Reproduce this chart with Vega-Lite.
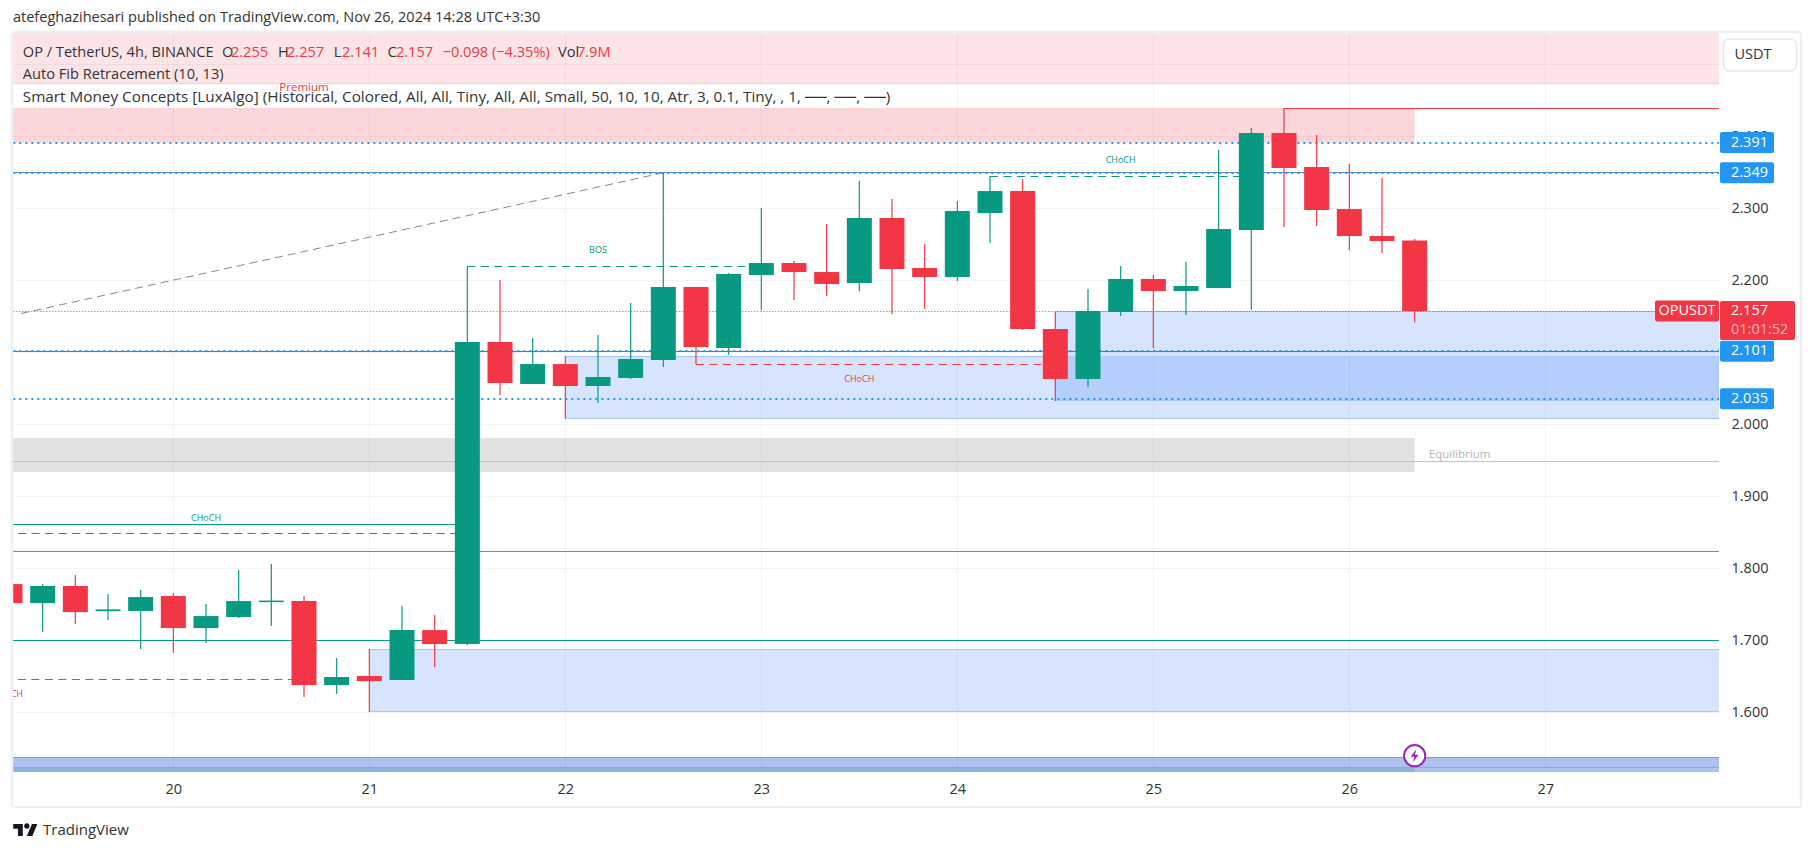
{
"$schema":"https://vega.github.io/schema/vega-lite/v6.json",
"width":1706,"height":739,
"autosize":{"type":"none"},
"padding":{"left":13,"top":33,"right":95,"bottom":79},
"background":"white",
"title":{"text":"atefeghazihesari published on TradingView.com, Nov 26, 2024 14:28 UTC+3:30","anchor":"start","frame":"group","fontSize":14.5,"fontWeight":"normal","color":"#333333","font":"Open Sans","offset":5},
"config":{"view":{"stroke":null},"font":"Open Sans"},
"datasets":{
"candles":[
{"t":"2024-11-19T04:00:00Z","o":1.7777,"h":1.7777,"l":1.7513,"c":1.7513,"dir":"down"},
{"t":"2024-11-19T08:00:00Z","o":1.7513,"h":1.7777,"l":1.7111,"c":1.775,"dir":"up"},
{"t":"2024-11-19T12:00:00Z","o":1.775,"h":1.7902,"l":1.7222,"c":1.7388,"dir":"down"},
{"t":"2024-11-19T16:00:00Z","o":1.7401,"h":1.7638,"l":1.7277,"c":1.7425,"dir":"up"},
{"t":"2024-11-19T20:00:00Z","o":1.7403,"h":1.7694,"l":1.6875,"c":1.7597,"dir":"up"},
{"t":"2024-11-20T00:00:00Z","o":1.7611,"h":1.7652,"l":1.6819,"c":1.7166,"dir":"down"},
{"t":"2024-11-20T04:00:00Z","o":1.7166,"h":1.75,"l":1.6958,"c":1.7333,"dir":"up"},
{"t":"2024-11-20T08:00:00Z","o":1.7319,"h":1.7972,"l":1.7305,"c":1.7541,"dir":"up"},
{"t":"2024-11-20T12:00:00Z","o":1.7526,"h":1.8055,"l":1.7194,"c":1.7548,"dir":"up"},
{"t":"2024-11-20T16:00:00Z","o":1.7541,"h":1.7611,"l":1.6208,"c":1.6375,"dir":"down"},
{"t":"2024-11-20T20:00:00Z","o":1.6375,"h":1.675,"l":1.625,"c":1.6486,"dir":"up"},
{"t":"2024-11-21T00:00:00Z","o":1.65,"h":1.6875,"l":1.6,"c":1.643,"dir":"down"},
{"t":"2024-11-21T04:00:00Z","o":1.6444,"h":1.7472,"l":1.6444,"c":1.7138,"dir":"up"},
{"t":"2024-11-21T08:00:00Z","o":1.7138,"h":1.7347,"l":1.6625,"c":1.6944,"dir":"down"},
{"t":"2024-11-21T12:00:00Z","o":1.6944,"h":2.219,"l":1.693,"c":2.1139,"dir":"up"},
{"t":"2024-11-21T16:00:00Z","o":2.1139,"h":2.2,"l":2.0403,"c":2.057,"dir":"down"},
{"t":"2024-11-21T20:00:00Z","o":2.0556,"h":2.1195,"l":2.0556,"c":2.0833,"dir":"up"},
{"t":"2024-11-22T00:00:00Z","o":2.0833,"h":2.0945,"l":2.0074,"c":2.0528,"dir":"down"},
{"t":"2024-11-22T04:00:00Z","o":2.0528,"h":2.1236,"l":2.0292,"c":2.0653,"dir":"up"},
{"t":"2024-11-22T08:00:00Z","o":2.0639,"h":2.1681,"l":2.0625,"c":2.0903,"dir":"up"},
{"t":"2024-11-22T12:00:00Z","o":2.0889,"h":2.3491,"l":2.0792,"c":2.1903,"dir":"up"},
{"t":"2024-11-22T16:00:00Z","o":2.1903,"h":2.1903,"l":2.0829,"c":2.107,"dir":"down"},
{"t":"2024-11-22T20:00:00Z","o":2.1056,"h":2.2097,"l":2.0958,"c":2.2083,"dir":"up"},
{"t":"2024-11-23T00:00:00Z","o":2.207,"h":2.3,"l":2.1583,"c":2.2236,"dir":"up"},
{"t":"2024-11-23T04:00:00Z","o":2.2236,"h":2.2264,"l":2.1722,"c":2.2111,"dir":"down"},
{"t":"2024-11-23T08:00:00Z","o":2.2111,"h":2.2778,"l":2.1778,"c":2.1945,"dir":"down"},
{"t":"2024-11-23T12:00:00Z","o":2.1959,"h":2.3375,"l":2.1847,"c":2.2861,"dir":"up"},
{"t":"2024-11-23T16:00:00Z","o":2.2861,"h":2.3125,"l":2.1528,"c":2.2153,"dir":"down"},
{"t":"2024-11-23T20:00:00Z","o":2.2167,"h":2.25,"l":2.1597,"c":2.2042,"dir":"down"},
{"t":"2024-11-24T00:00:00Z","o":2.2042,"h":2.3097,"l":2.1986,"c":2.2959,"dir":"up"},
{"t":"2024-11-24T04:00:00Z","o":2.2931,"h":2.3445,"l":2.2514,"c":2.3236,"dir":"up"},
{"t":"2024-11-24T08:00:00Z","o":2.3236,"h":2.3403,"l":2.1306,"c":2.1319,"dir":"down"},
{"t":"2024-11-24T12:00:00Z","o":2.1319,"h":2.1556,"l":2.0319,"c":2.0625,"dir":"down"},
{"t":"2024-11-24T16:00:00Z","o":2.0625,"h":2.1875,"l":2.0514,"c":2.1569,"dir":"up"},
{"t":"2024-11-24T20:00:00Z","o":2.1556,"h":2.2194,"l":2.15,"c":2.2014,"dir":"up"},
{"t":"2024-11-25T00:00:00Z","o":2.2014,"h":2.2069,"l":2.1056,"c":2.1847,"dir":"down"},
{"t":"2024-11-25T04:00:00Z","o":2.1847,"h":2.225,"l":2.1514,"c":2.1917,"dir":"up"},
{"t":"2024-11-25T08:00:00Z","o":2.1889,"h":2.3806,"l":2.1889,"c":2.2708,"dir":"up"},
{"t":"2024-11-25T12:00:00Z","o":2.2694,"h":2.4111,"l":2.1583,"c":2.4042,"dir":"up"},
{"t":"2024-11-25T16:00:00Z","o":2.4042,"h":2.4389,"l":2.2736,"c":2.3556,"dir":"down"},
{"t":"2024-11-25T20:00:00Z","o":2.3569,"h":2.4014,"l":2.275,"c":2.2972,"dir":"down"},
{"t":"2024-11-26T00:00:00Z","o":2.2986,"h":2.3611,"l":2.2417,"c":2.2611,"dir":"down"},
{"t":"2024-11-26T04:00:00Z","o":2.2611,"h":2.3417,"l":2.2375,"c":2.2542,"dir":"down"},
{"t":"2024-11-26T08:00:00Z","o":2.255,"h":2.257,"l":2.141,"c":2.157,"dir":"down"}
],
"zones":[
{"t0":"2024-11-19T00:00:00Z","t1":"2024-11-28T00:00:00Z","p0":2.472,"p1":2.5431,"kind":"premiumTop"},
{"t0":"2024-11-19T00:00:00Z","t1":"2024-11-26T08:00:00Z","p0":2.3907,"p1":2.4389,"kind":"premium"},
{"t0":"2024-11-19T00:00:00Z","t1":"2024-11-26T08:00:00Z","p0":1.9333,"p1":1.9806,"kind":"equilibrium"},
{"t0":"2024-11-21T00:00:00Z","t1":"2024-11-28T00:00:00Z","p0":1.6,"p1":1.6875,"kind":"demand"},
{"t0":"2024-11-22T00:00:00Z","t1":"2024-11-28T00:00:00Z","p0":2.0074,"p1":2.0945,"kind":"demand"},
{"t0":"2024-11-24T12:00:00Z","t1":"2024-11-28T00:00:00Z","p0":2.032,"p1":2.1556,"kind":"demand"},
{"t0":"2024-11-19T00:00:00Z","t1":"2024-11-28T00:00:00Z","p0":1.5167,"p1":1.5375,"kind":"band"},
{"t0":"2024-11-19T00:00:00Z","t1":"2024-11-26T08:00:00Z","p0":1.5167,"p1":1.5232,"kind":"bandLow"}
],
"solid":[
{"t0":"2024-11-19T00:00:00Z","t1":"2024-11-28T00:00:00Z","p":1.69935,"kind":"teal"},
{"t0":"2024-11-19T00:00:00Z","t1":"2024-11-28T00:00:00Z","p":1.82296,"kind":"green"},
{"t0":"2024-11-19T00:00:00Z","t1":"2024-11-28T00:00:00Z","p":1.94796,"kind":"equi"},
{"t0":"2024-11-19T00:00:00Z","t1":"2024-11-21T12:00:00Z","p":1.86046,"kind":"teal"},
{"t0":"2024-11-25T16:00:00Z","t1":"2024-11-28T00:00:00Z","p":2.43824,"kind":"red"},
{"t0":"2024-11-19T00:00:00Z","t1":"2024-11-28T00:00:00Z","p":2.10074,"kind":"red"},
{"t0":"2024-11-19T00:00:00Z","t1":"2024-11-28T00:00:00Z","p":2.34935,"kind":"steel"},
{"t0":"2024-11-21T00:00:00Z","t1":"2024-11-28T00:00:00Z","p":1.68685,"kind":"edge"},
{"t0":"2024-11-21T00:00:00Z","t1":"2024-11-28T00:00:00Z","p":1.60074,"kind":"edge"},
{"t0":"2024-11-22T00:00:00Z","t1":"2024-11-28T00:00:00Z","p":2.0938,"kind":"edge"},
{"t0":"2024-11-22T00:00:00Z","t1":"2024-11-28T00:00:00Z","p":2.00768,"kind":"edge"},
{"t0":"2024-11-24T12:00:00Z","t1":"2024-11-28T00:00:00Z","p":2.1563,"kind":"edge"},
{"t0":"2024-11-24T12:00:00Z","t1":"2024-11-28T00:00:00Z","p":2.03268,"kind":"edge"},
{"t0":"2024-11-19T00:00:00Z","t1":"2024-11-28T00:00:00Z","p":2.47296,"kind":"pinkEdge"},
{"t0":"2024-11-19T00:00:00Z","t1":"2024-11-28T00:00:00Z","p":1.53685,"kind":"bandEdge"},
{"t0":"2024-11-19T00:00:00Z","t1":"2024-11-28T00:00:00Z","p":1.52296,"kind":"bandLine"}
],
"dashed":[
{"t0":"2024-11-19T05:00:00Z","t1":"2024-11-21T11:00:00Z","p":1.84796,"kind":"teal"},
{"t0":"2024-11-19T00:00:00Z","t1":"2024-11-20T16:00:00Z","p":1.64518,"kind":"red"},
{"t0":"2024-11-21T12:00:00Z","t1":"2024-11-23T00:00:00Z","p":2.21879,"kind":"teal"},
{"t0":"2024-11-22T16:00:00Z","t1":"2024-11-24T12:00:00Z","p":2.08268,"kind":"red"},
{"t0":"2024-11-24T04:00:00Z","t1":"2024-11-25T12:00:00Z","p":2.34379,"kind":"teal"}
],
"fib":[
{"t0":"2024-11-19T00:00:00Z","t1":"2024-11-28T00:00:00Z","p":2.39032},
{"t0":"2024-11-19T00:00:00Z","t1":"2024-11-28T00:00:00Z","p":2.34866},
{"t0":"2024-11-19T00:00:00Z","t1":"2024-11-28T00:00:00Z","p":2.10143},
{"t0":"2024-11-19T00:00:00Z","t1":"2024-11-28T00:00:00Z","p":2.03477}
],
"last":[{"t0":"2024-11-19T00:00:00Z","t1":"2024-11-28T00:00:00Z","p":2.1563}],
"diag":[{"t":"2024-11-19T05:20:00Z","p":2.1535},{"t":"2024-11-22T12:00:00Z","p":2.349}],
"header":[
{"t":"2024-11-19T05:34:00Z","p":2.5153,"label":"OP / TetherUS, 4h, BINANCE","kind":"dark"},
{"t":"2024-11-20T05:57:00Z","p":2.5153,"label":"O","kind":"dark"},
{"t":"2024-11-20T07:03:00Z","p":2.5153,"label":"2.255","kind":"red"},
{"t":"2024-11-20T12:49:00Z","p":2.5153,"label":"H","kind":"dark"},
{"t":"2024-11-20T13:55:00Z","p":2.5153,"label":"2.257","kind":"red"},
{"t":"2024-11-20T19:38:00Z","p":2.5153,"label":"L","kind":"dark"},
{"t":"2024-11-20T20:39:00Z","p":2.5153,"label":"2.141","kind":"red"},
{"t":"2024-11-21T02:13:00Z","p":2.5153,"label":"C","kind":"dark"},
{"t":"2024-11-21T03:15:00Z","p":2.5153,"label":"2.157","kind":"red"},
{"t":"2024-11-21T08:58:00Z","p":2.5153,"label":"−0.098 (−4.35%)","kind":"red"},
{"t":"2024-11-21T23:06:00Z","p":2.5153,"label":"Vol","kind":"dark"},
{"t":"2024-11-22T01:25:00Z","p":2.5153,"label":"7.9M","kind":"red"},
{"t":"2024-11-19T05:34:00Z","p":2.4847,"label":"Auto Fib Retracement (10, 13)","kind":"dark"}
],
"headerLong":[
{"t":"2024-11-19T05:34:00Z","p":2.4546,"label":"Smart Money Concepts [LuxAlgo] (Historical, Colored, All, All, Tiny, All, All, Small, 50, 10, 10, Atr, 3, 0.1, Tiny, , 1, ──, ──, ──)"}
],
"tiny":[
{"t":"2024-11-20T04:00:00Z","p":1.8699,"label":"CHoCH","kind":"teal"},
{"t":"2024-11-19T03:45:00Z","p":1.625,"label":"CHoCH","kind":"red"},
{"t":"2024-11-22T04:00:00Z","p":2.2417,"label":"BOS","kind":"teal"},
{"t":"2024-11-23T12:00:00Z","p":2.0625,"label":"CHoCH","kind":"red"},
{"t":"2024-11-24T20:00:00Z","p":2.3667,"label":"CHoCH","kind":"teal"}
],
"zoneLabels":[
{"t":"2024-11-20T16:00:00Z","p":2.4667,"label":"Premium","kind":"red"},
{"t":"2024-11-26T13:30:00Z","p":1.957,"label":"Equilibrium","kind":"grey"}
],
"tags":[
{"t":"2024-11-27T21:16:00Z","p":2.391,"label":"2.391"},
{"t":"2024-11-27T21:16:00Z","p":2.349,"label":"2.349"},
{"t":"2024-11-27T21:16:00Z","p":2.101,"label":"2.101"},
{"t":"2024-11-27T21:16:00Z","p":2.035,"label":"2.035"}
],
"lastTag":[{"t":"2024-11-27T21:16:00Z","p":2.157,"label":"2.157","symbol":"OPUSDT","countdown":"01:01:52"}],
"unit":[{"t":"2024-11-27T21:16:00Z","p":2.5125,"label":"USDT"}],
"frame":[{"t0":"2024-11-19T04:22:00Z","t1":"2024-11-27T21:16:00Z","top":2.5431,"bottom":1.5167,"brand":"TradingView"}],
"flash":[{"t":"2024-11-26T08:00:00Z","p":1.5393}]
},
"layer":[
{"data":{"name":"zones"},"mark":{"type":"rect","clip":true},
 "encoding":{
  "x":{"field":"t0","type":"temporal","title":null,"scale":{"type":"utc","padding":0,"domain":["2024-11-19T04:22:00Z","2024-11-27T21:16:00Z"]},
    "axis":{"orient":"bottom","format":"%-d","tickCount":{"interval":"day","step":1},"grid":true,"gridColor":"#f0f3fa","gridWidth":1,"ticks":false,"domain":false,"labelFontSize":14.5,"labelColor":"#333333","labelPadding":10,"labelFont":"Open Sans","labelOverlap":false,"labelFlush":false}},
  "x2":{"field":"t1"},
  "y":{"field":"p0","type":"quantitative","title":null,"scale":{"padding":0,"domain":[1.5167,2.5431],"nice":false,"zero":false},
    "axis":{"orient":"right","values":[1.6,1.7,1.8,1.9,2.0,2.1,2.2,2.3,2.4,2.5],"format":".3f","grid":true,"gridColor":"#f0f3fa","gridWidth":1,"ticks":false,"domain":false,"labelFontSize":14.5,"labelColor":"#333333","labelPadding":12,"labelFont":"Open Sans"}},
  "y2":{"field":"p1"},
  "color":{"field":"kind","type":"nominal","legend":null,"scale":{"domain":["premiumTop","premium","equilibrium","demand","band","bandLow"],"range":["rgba(242,54,69,0.13)","rgba(242,54,69,0.2)","rgba(112,112,112,0.2)","rgba(49,121,245,0.2)","rgba(48,95,215,0.39)","rgba(0,135,130,0.2)"]}}
 }},
{"data":{"name":"solid"},"mark":{"type":"rule","clip":true,"strokeWidth":1},
 "encoding":{"x":{"field":"t0","type":"temporal"},"x2":{"field":"t1"},"y":{"field":"p","type":"quantitative"},
  "color":{"field":"kind","type":"nominal","legend":null,"scale":{"domain":["teal","green","equi","red","steel","edge","pinkEdge","bandEdge","bandLine"],"range":["#089981","#4caf50","#a5d6a7","#f23645","#5b8cc8","#a9c6fb","#f8cfd2","#7b9be0","#64b5f6"]}}}},
{"data":{"name":"dashed"},"mark":{"type":"rule","clip":true,"strokeWidth":1,"strokeDash":[8,5.5]},
 "encoding":{"x":{"field":"t0","type":"temporal"},"x2":{"field":"t1"},"y":{"field":"p","type":"quantitative"},
  "color":{"field":"kind","type":"nominal","legend":null,"scale":{"domain":["teal","red"],"range":["#089981","#f23645"]}}}},
{"data":{"name":"diag"},"mark":{"type":"line","clip":true,"strokeWidth":1,"strokeDash":[8,5],"color":"#888888"},
 "encoding":{"x":{"field":"t","type":"temporal"},"y":{"field":"p","type":"quantitative"}}},
{"data":{"name":"last"},"mark":{"type":"rule","clip":true,"strokeWidth":1,"strokeDash":[1,2],"color":"#f23645"},
 "encoding":{"x":{"field":"t0","type":"temporal"},"x2":{"field":"t1"},"y":{"field":"p","type":"quantitative"}}},
{"data":{"name":"fib"},"mark":{"type":"rule","clip":true,"strokeWidth":2,"strokeDash":[2,4],"color":"#2196f3"},
 "encoding":{"x":{"field":"t0","type":"temporal"},"x2":{"field":"t1"},"y":{"field":"p","type":"quantitative"}}},
{"data":{"name":"candles"},"mark":{"type":"rule","clip":true,"strokeWidth":1.2},
 "encoding":{"x":{"field":"t","type":"temporal"},"y":{"field":"l","type":"quantitative"},"y2":{"field":"h"},
  "color":{"field":"dir","type":"nominal","legend":null,"scale":{"domain":["up","down"],"range":["#089981","#f23645"]}}}},
{"data":{"name":"candles"},"mark":{"type":"bar","clip":true,"size":25},
 "encoding":{"x":{"field":"t","type":"temporal"},"y":{"field":"o","type":"quantitative"},"y2":{"field":"c"},
  "color":{"field":"dir","type":"nominal","legend":null,"scale":{"domain":["up","down"],"range":["#089981","#f23645"]}}}},
{"data":{"name":"tiny"},"mark":{"type":"text","clip":true,"fontSize":9,"align":"center","baseline":"middle","font":"Open Sans"},
 "encoding":{"x":{"field":"t","type":"temporal"},"y":{"field":"p","type":"quantitative"},"text":{"field":"label"},
  "color":{"field":"kind","type":"nominal","legend":null,"scale":{"domain":["teal","red"],"range":["#089981","#f23645"]}}}},
{"data":{"name":"zoneLabels"},"mark":{"type":"text","clip":true,"fontSize":11.5,"align":"center","baseline":"middle","font":"Open Sans"},
 "encoding":{"x":{"field":"t","type":"temporal"},"y":{"field":"p","type":"quantitative"},"text":{"field":"label"},
  "color":{"field":"kind","type":"nominal","legend":null,"scale":{"domain":["red","grey"],"range":["#f23645","#b2b5be"]}}}},
{"data":{"name":"header"},"mark":{"type":"text","fontSize":14.6,"align":"left","baseline":"middle","font":"Open Sans"},
 "encoding":{"x":{"field":"t","type":"temporal"},"y":{"field":"p","type":"quantitative"},"text":{"field":"label"},
  "color":{"field":"kind","type":"nominal","legend":null,"scale":{"domain":["dark","red"],"range":["#333333","#f23645"]}}}},
{"data":{"name":"headerLong"},"mark":{"type":"text","fontSize":15.3,"align":"left","baseline":"middle","font":"Open Sans","color":"#333333"},
 "encoding":{"x":{"field":"t","type":"temporal"},"y":{"field":"p","type":"quantitative"},"text":{"field":"label"}}},
{"data":{"name":"flash"},"mark":{"type":"point","filled":true,"shape":"circle","size":452,"fill":"#ffffff","stroke":"#9c27b0","strokeWidth":2,"opacity":1},
 "encoding":{"x":{"field":"t","type":"temporal"},"y":{"field":"p","type":"quantitative"}}},
{"data":{"name":"flash"},"mark":{"type":"point","filled":true,"shape":"M0.25 -1L-0.6 0.15H-0.05L-0.25 1L0.6 -0.15H0.05Z","size":169,"color":"#9c27b0","opacity":1},
 "encoding":{"x":{"field":"t","type":"temporal"},"y":{"field":"p","type":"quantitative"}}},
{"data":{"name":"frame"},"mark":{"type":"rule","strokeWidth":2.5,"color":"#eef0f5","xOffset":-1,"y2Offset":35,"clip":false},
 "encoding":{"x":{"field":"t0","type":"temporal"},"y":{"field":"top","type":"quantitative"},"y2":{"field":"bottom"}}},
{"data":{"name":"frame"},"mark":{"type":"rule","strokeWidth":2.5,"color":"#eef0f5","xOffset":82,"y2Offset":35,"clip":false},
 "encoding":{"x":{"field":"t1","type":"temporal"},"y":{"field":"top","type":"quantitative"},"y2":{"field":"bottom"}}},
{"data":{"name":"frame"},"mark":{"type":"rule","strokeWidth":2.5,"color":"#eef0f5","yOffset":-1,"x2Offset":82,"clip":false},
 "encoding":{"x":{"field":"t0","type":"temporal"},"x2":{"field":"t1"},"y":{"field":"top","type":"quantitative"}}},
{"data":{"name":"frame"},"mark":{"type":"rule","strokeWidth":2.5,"color":"#eef0f5","yOffset":35,"x2Offset":82,"clip":false},
 "encoding":{"x":{"field":"t0","type":"temporal"},"x2":{"field":"t1"},"y":{"field":"bottom","type":"quantitative"}}},
{"data":{"name":"frame"},"mark":{"type":"point","filled":true,"shape":"M-1 -0.5H-0.22V0.5H-0.61V-0.11H-1ZM-0.11 -0.33A0.22 0.22 0 1 0 0.33 -0.33A0.22 0.22 0 1 0 -0.11 -0.33ZM0.53 -0.5H0.97L0.56 0.5H0.11Z","size":600,"color":"#131722","opacity":1,"xOffset":12.5,"yOffset":58,"clip":false},
 "encoding":{"x":{"field":"t0","type":"temporal"},"y":{"field":"bottom","type":"quantitative"}}},
{"data":{"name":"frame"},"mark":{"type":"text","fontSize":15,"align":"left","baseline":"middle","dx":30,"dy":58,"color":"#333333","font":"Open Sans","clip":false},
 "encoding":{"x":{"field":"t0","type":"temporal"},"y":{"field":"bottom","type":"quantitative"},"text":{"field":"brand"}}},
{"data":{"name":"unit"},"mark":{"type":"rect","width":73,"height":32,"xOffset":41,"cornerRadius":6,"fill":"#ffffff","stroke":"#e6e8f0","strokeWidth":1.5,"clip":false},
 "encoding":{"x":{"field":"t","type":"temporal"},"y":{"field":"p","type":"quantitative"}}},
{"data":{"name":"unit"},"mark":{"type":"text","fontSize":14.5,"align":"center","baseline":"middle","dx":34,"color":"#333333","font":"Open Sans","clip":false},
 "encoding":{"x":{"field":"t","type":"temporal"},"y":{"field":"p","type":"quantitative"},"text":{"field":"label"}}},
{"data":{"name":"tags"},"mark":{"type":"rect","width":54,"height":21,"xOffset":28,"cornerRadius":2,"color":"#2196f3","clip":false},
 "encoding":{"x":{"field":"t","type":"temporal"},"y":{"field":"p","type":"quantitative"}}},
{"data":{"name":"tags"},"mark":{"type":"text","fontSize":14.5,"align":"left","baseline":"middle","dx":12,"color":"#ffffff","font":"Open Sans","clip":false},
 "encoding":{"x":{"field":"t","type":"temporal"},"y":{"field":"p","type":"quantitative"},"text":{"field":"label"}}},
{"data":{"name":"lastTag"},"mark":{"type":"rect","width":75,"height":39,"xOffset":38.5,"yOffset":9.5,"cornerRadius":2,"color":"#f23645","clip":false},
 "encoding":{"x":{"field":"t","type":"temporal"},"y":{"field":"p","type":"quantitative"}}},
{"data":{"name":"lastTag"},"mark":{"type":"rect","width":64,"height":21,"xOffset":-32,"cornerRadius":2,"color":"#f23645","clip":false},
 "encoding":{"x":{"field":"t","type":"temporal"},"y":{"field":"p","type":"quantitative"}}},
{"data":{"name":"lastTag"},"mark":{"type":"text","fontSize":14.5,"align":"left","baseline":"middle","dx":12,"color":"#ffffff","font":"Open Sans","clip":false},
 "encoding":{"x":{"field":"t","type":"temporal"},"y":{"field":"p","type":"quantitative"},"text":{"field":"label"}}},
{"data":{"name":"lastTag"},"mark":{"type":"text","fontSize":14.5,"align":"left","baseline":"middle","dx":12,"dy":19,"color":"#ffb3b9","font":"Open Sans","clip":false},
 "encoding":{"x":{"field":"t","type":"temporal"},"y":{"field":"p","type":"quantitative"},"text":{"field":"countdown"}}},
{"data":{"name":"lastTag"},"mark":{"type":"text","fontSize":14.5,"align":"center","baseline":"middle","dx":-32,"color":"#ffffff","font":"Open Sans","clip":false},
 "encoding":{"x":{"field":"t","type":"temporal"},"y":{"field":"p","type":"quantitative"},"text":{"field":"symbol"}}}
],
"resolve":{"scale":{"color":"independent"}}
}
